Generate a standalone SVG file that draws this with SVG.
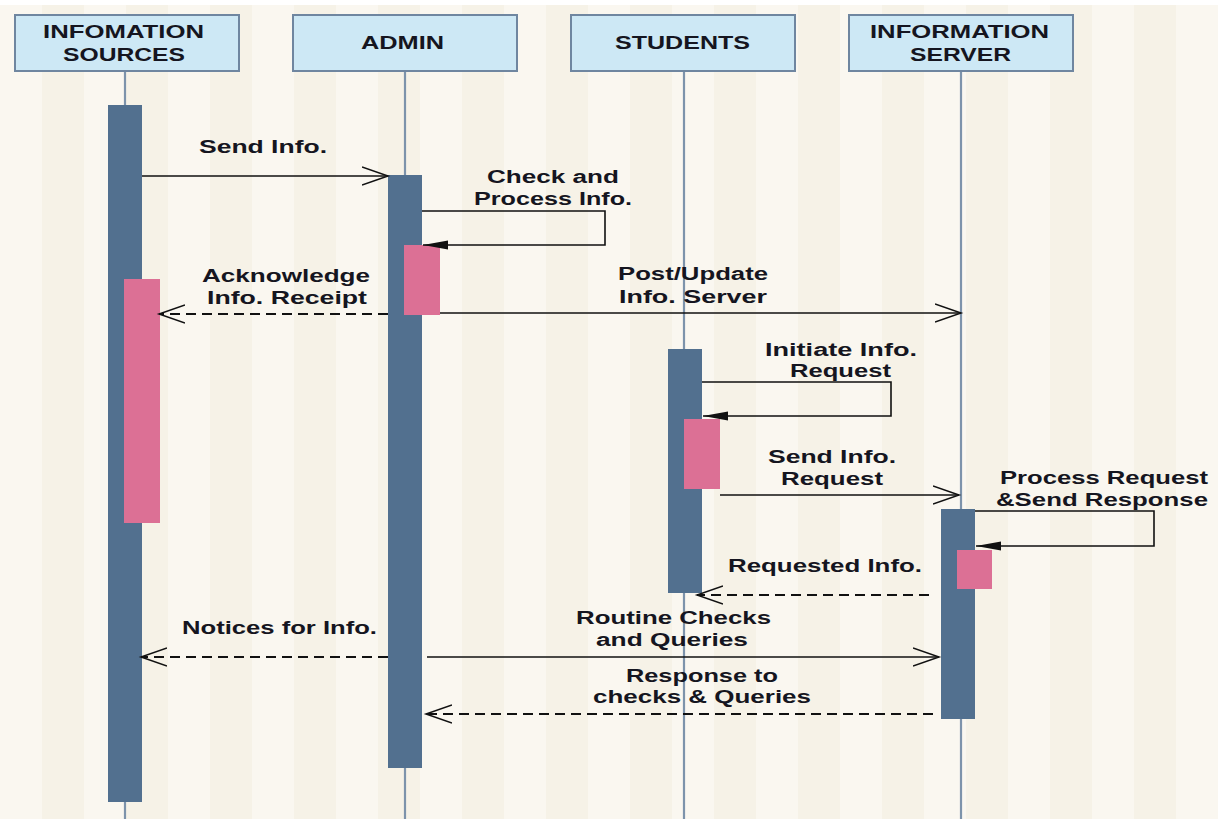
<svg xmlns="http://www.w3.org/2000/svg" width="1218" height="819" viewBox="0 0 1218 819">
<defs>
<pattern id="stripes" x="0" y="0" width="84" height="10" patternUnits="userSpaceOnUse">
<rect x="0" y="0" width="84" height="10" fill="#faf7f0"/>
<rect x="42" y="0" width="42" height="10" fill="#f6f2e7"/>
</pattern>
<marker id="open" markerUnits="userSpaceOnUse" markerWidth="30" markerHeight="22" refX="26" refY="10" orient="auto">
<polyline points="0,1 26,10 0,19" fill="none" stroke="#111" stroke-width="1.5"/>
</marker>
<marker id="filled" markerUnits="userSpaceOnUse" markerWidth="28" markerHeight="12" refX="25" refY="5" orient="auto">
<polygon points="0,0.5 25,5 0,9.5" fill="#111"/>
</marker>
</defs>
<style>
.hdr{fill:#cde8f5;stroke:#6f86a0;stroke-width:2}
.life{stroke:#7d93ab;stroke-width:2.2}
.act{fill:#52708f}
.pink{fill:#dc7095}
.t{font-family:"Liberation Sans",Arial,sans-serif;font-weight:bold;font-size:18px;fill:#151520}
.msg{stroke:#111;stroke-width:1.6;fill:none}
.dash{stroke-dasharray:10 6;stroke-width:1.8}
</style>
<rect x="0" y="0" width="1218" height="819" fill="url(#stripes)"/>
<rect x="0" y="0" width="1218" height="5" fill="#ffffff"/>

<g id="lifelines">
<line class="life" x1="125" y1="71" x2="125" y2="819"/>
<line class="life" x1="405" y1="71" x2="405" y2="819"/>
<line class="life" x1="684" y1="71" x2="684" y2="819"/>
<line class="life" x1="961" y1="71" x2="961" y2="819"/>
</g>

<g id="info-sources">
<rect class="hdr" x="15" y="15" width="224" height="56"/>
<text class="t" x="43" y="38" textLength="161" lengthAdjust="spacingAndGlyphs">INFOMATION</text>
<text class="t" x="63" y="61" textLength="122" lengthAdjust="spacingAndGlyphs">SOURCES</text>
<rect class="act" x="108" y="105" width="34" height="697"/>
<rect class="pink" x="124" y="279" width="36" height="244"/>
</g>

<g id="admin">
<rect class="hdr" x="293" y="15" width="224" height="56"/>
<text class="t" x="361" y="49" textLength="83" lengthAdjust="spacingAndGlyphs">ADMIN</text>
<rect class="act" x="388" y="175" width="34" height="593"/>
<rect class="pink" x="404" y="245" width="36" height="70"/>
</g>

<g id="students">
<rect class="hdr" x="571" y="15" width="224" height="56"/>
<text class="t" x="615" y="49" textLength="135" lengthAdjust="spacingAndGlyphs">STUDENTS</text>
<rect class="act" x="668" y="349" width="34" height="244"/>
<rect class="pink" x="684" y="419" width="36" height="70"/>
</g>

<g id="info-server">
<rect class="hdr" x="849" y="15" width="224" height="56"/>
<text class="t" x="870" y="38" textLength="179" lengthAdjust="spacingAndGlyphs">INFORMATION</text>
<text class="t" x="910" y="61" textLength="101" lengthAdjust="spacingAndGlyphs">SERVER</text>
<rect class="act" x="941" y="509" width="34" height="210"/>
<rect class="pink" x="957" y="550" width="35" height="39"/>
</g>

<g id="connectors">
<line class="msg" x1="142" y1="176" x2="388" y2="176" marker-end="url(#open)"/>
<polyline class="msg" points="422,211 605,211 605,245 423,245" marker-end="url(#filled)"/>
<line class="msg dash" x1="388" y1="314" x2="159" y2="314" marker-end="url(#open)"/>
<line class="msg" x1="440" y1="313" x2="961" y2="313" marker-end="url(#open)"/>
<polyline class="msg" points="702,382 891,382 891,416 703,416" marker-end="url(#filled)"/>
<line class="msg" x1="720" y1="495" x2="959" y2="495" marker-end="url(#open)"/>
<polyline class="msg" points="975,511 1154,511 1154,546 976,546" marker-end="url(#filled)"/>
<line class="msg dash" x1="929" y1="595" x2="697" y2="595" marker-end="url(#open)"/>
<line class="msg dash" x1="388" y1="657" x2="141" y2="657" marker-end="url(#open)"/>
<line class="msg" x1="427" y1="657" x2="939" y2="657" marker-end="url(#open)"/>
<line class="msg dash" x1="933" y1="714" x2="426" y2="714" marker-end="url(#open)"/>
</g>

<g id="labels">
<text class="t" x="199" y="153" textLength="128" lengthAdjust="spacingAndGlyphs">Send Info.</text>
<text class="t" x="487" y="183" textLength="132" lengthAdjust="spacingAndGlyphs">Check and</text>
<text class="t" x="474" y="205" textLength="158" lengthAdjust="spacingAndGlyphs">Process Info.</text>
<text class="t" x="202" y="282" textLength="168" lengthAdjust="spacingAndGlyphs">Acknowledge</text>
<text class="t" x="207" y="304" textLength="160" lengthAdjust="spacingAndGlyphs">Info. Receipt</text>
<text class="t" x="618" y="280" textLength="150" lengthAdjust="spacingAndGlyphs">Post/Update</text>
<text class="t" x="619" y="303" textLength="148" lengthAdjust="spacingAndGlyphs">Info. Server</text>
<text class="t" x="765" y="356" textLength="152" lengthAdjust="spacingAndGlyphs">Initiate Info.</text>
<text class="t" x="790" y="377" textLength="101" lengthAdjust="spacingAndGlyphs">Request</text>
<text class="t" x="768" y="463" textLength="128" lengthAdjust="spacingAndGlyphs">Send Info.</text>
<text class="t" x="781" y="485" textLength="102" lengthAdjust="spacingAndGlyphs">Request</text>
<text class="t" x="1000" y="484" textLength="208" lengthAdjust="spacingAndGlyphs">Process Request</text>
<text class="t" x="996" y="506" textLength="212" lengthAdjust="spacingAndGlyphs">&amp;Send Response</text>
<text class="t" x="728" y="572" textLength="194" lengthAdjust="spacingAndGlyphs">Requested Info.</text>
<text class="t" x="182" y="634" textLength="195" lengthAdjust="spacingAndGlyphs">Notices for Info.</text>
<text class="t" x="576" y="624" textLength="195" lengthAdjust="spacingAndGlyphs">Routine Checks</text>
<text class="t" x="596" y="646" textLength="152" lengthAdjust="spacingAndGlyphs">and Queries</text>
<text class="t" x="626" y="682" textLength="152" lengthAdjust="spacingAndGlyphs">Response to</text>
<text class="t" x="593" y="703" textLength="218" lengthAdjust="spacingAndGlyphs">checks &amp; Queries</text>
</g>
</svg>
